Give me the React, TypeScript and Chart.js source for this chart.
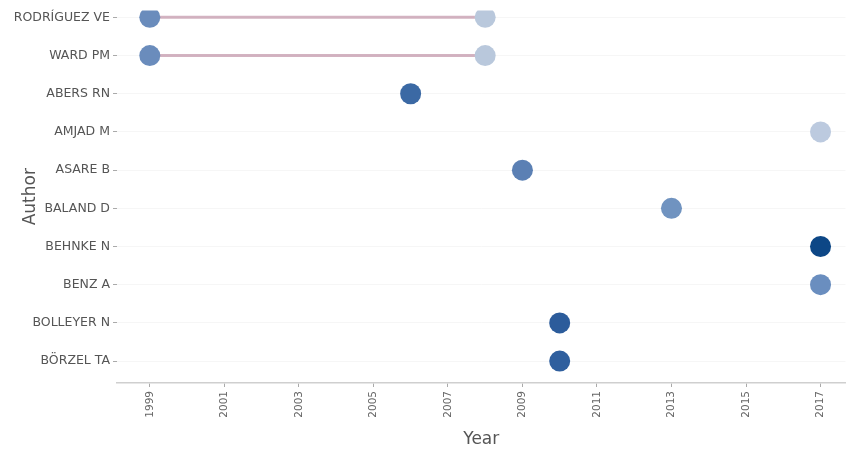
import React, { useEffect, useRef } from "react";
import { Chart, registerables } from "chart.js";

Chart.register(...registerables);

const authors = [
  "RODRÍGUEZ VE",
  "WARD PM",
  "ABERS RN",
  "AMJAD M",
  "ASARE B",
  "BALAND D",
  "BEHNKE N",
  "BENZ A",
  "BOLLEYER N",
  "BÖRZEL TA",
];

// period lines (first to last year of activity)
const spanAuthors = ["RODRÍGUEZ VE", "WARD PM"];
const spanStart = [1999, 1999];
const spanEnd = [2008, 2008];

// production points
const pointAuthors = [
  "RODRÍGUEZ VE",
  "RODRÍGUEZ VE",
  "WARD PM",
  "WARD PM",
  "ABERS RN",
  "AMJAD M",
  "ASARE B",
  "BALAND D",
  "BEHNKE N",
  "BENZ A",
  "BOLLEYER N",
  "BÖRZEL TA",
];
const pointYears = [1999, 2008, 1999, 2008, 2006, 2017, 2009, 2013, 2017, 2017, 2010, 2010];
const pointColors = [
  "#6a8cbc",
  "#b9c8dc",
  "#6a8cbc",
  "#b9c8dc",
  "#3b69a4",
  "#bccadf",
  "#5b80b4",
  "#7093c0",
  "#0d4786",
  "#6a8ebf",
  "#2c5c9b",
  "#2f5f9e",
];

const xTicks = [1999, 2001, 2003, 2005, 2007, 2009, 2011, 2013, 2015, 2017];

export default function App() {
  const ref = useRef<HTMLCanvasElement>(null);

  useEffect(() => {
    if (!ref.current) return;
    const lineSets = spanAuthors.map((a, i) => ({
      type: "line" as const,
      data: [
        { x: spanStart[i], y: authors.indexOf(a) },
        { x: spanEnd[i], y: authors.indexOf(a) },
      ],
      borderColor: "rgba(200,160,178,0.8)",
      borderWidth: 3,
      pointRadius: 0,
      showLine: true,
      order: 2,
    }));
    const pointSet = {
      type: "scatter" as const,
      data: pointYears.map((yr, i) => ({ x: yr, y: authors.indexOf(pointAuthors[i]) })),
      backgroundColor: pointColors,
      borderColor: pointColors,
      borderWidth: 0,
      pointRadius: 10.5,
      order: 1,
    };
    const chart = new Chart(ref.current, {
      type: "scatter",
      data: { datasets: [...lineSets, pointSet] as any },
      options: {
        animation: false,
        responsive: false,
        maintainAspectRatio: false,
        layout: { padding: { left: 0, right: 6, top: 0, bottom: 0 } },
        plugins: { legend: { display: false }, tooltip: { enabled: false } },
        scales: {
          x: {
            type: "linear",
            min: 1998.12,
            max: 2017.67,
            afterBuildTicks: (s: any) => {
              s.ticks = xTicks.map((v) => ({ value: v }));
            },
            afterFit: (s: any) => {
              s.height = 67;
            },
            ticks: {
              minRotation: 90,
              maxRotation: 90,
              color: "#666",
              font: { family: "DejaVu Sans", size: 10.5 },
              padding: 4,
              callback: (v: any) => String(v),
            },
            grid: {
              drawOnChartArea: false,
              drawTicks: true,
              tickLength: 4,
              tickColor: "#aaa",
            },
            border: { display: true, color: "#cfcfcf", width: 1.5 },
            title: {
              display: true,
              text: "Year",
              color: "#555",
              font: { family: "DejaVu Sans", size: 17 },
              padding: { top: 0, bottom: 0 },
            },
          },
          y: {
            type: "linear",
            reverse: true,
            min: -0.18,
            max: 9.574,
            afterBuildTicks: (s: any) => {
              s.ticks = authors.map((_, i) => ({ value: i }));
            },
            afterFit: (s: any) => {
              s.width = 117;
            },
            ticks: {
              color: "#555",
              font: { family: "DejaVu Sans", size: 12.5 },
              padding: 3,
              callback: (v: any) => authors[v] ?? "",
            },
            grid: {
              color: "#f6f6f6",
              lineWidth: 1,
              drawTicks: true,
              tickLength: 4,
              tickColor: "#aaa",
            },
            border: { display: false },
            title: {
              display: true,
              text: "Author",
              color: "#555",
              font: { family: "DejaVu Sans", size: 17 },
              padding: { top: 20, bottom: 0 },
            },
          },
        },
      },
    });
    return () => chart.destroy();
  }, []);

  return (
    <div style={{ position: "fixed", left: 0, top: 0, width: 856, height: 450, background: "#fff" }}>
      <canvas ref={ref} width={856} height={450} style={{ width: 856, height: 450 }} />
    </div>
  );
}
